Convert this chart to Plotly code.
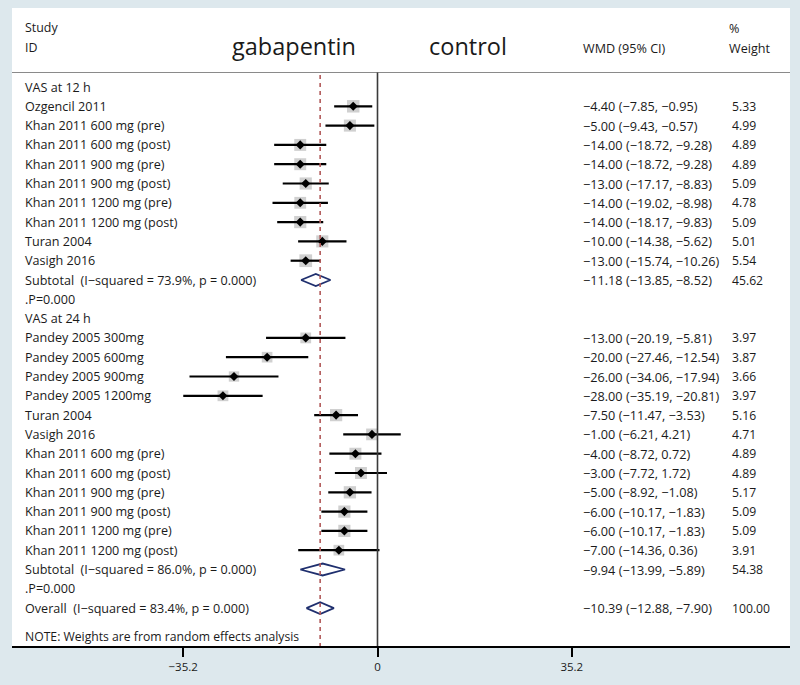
import plotly.graph_objects as go

# ---------------- data ----------------
study12 = ["Ozgencil 2011", "Khan 2011 600 mg (pre)", "Khan 2011 600 mg (post)",
           "Khan 2011 900 mg (pre)", "Khan 2011 900 mg (post)", "Khan 2011 1200 mg (pre)",
           "Khan 2011 1200 mg (post)", "Turan 2004", "Vasigh 2016"]
wmd12 = [-4.40, -5.00, -14.00, -14.00, -13.00, -14.00, -14.00, -10.00, -13.00]
lo12 = [-7.85, -9.43, -18.72, -18.72, -17.17, -19.02, -18.17, -14.38, -15.74]
hi12 = [-0.95, -0.57, -9.28, -9.28, -8.83, -8.98, -9.83, -5.62, -10.26]
w12 = [5.33, 4.99, 4.89, 4.89, 5.09, 4.78, 5.09, 5.01, 5.54]

study24 = ["Pandey 2005 300mg", "Pandey 2005 600mg", "Pandey 2005 900mg", "Pandey 2005 1200mg",
           "Turan 2004", "Vasigh 2016", "Khan 2011 600 mg (pre)", "Khan 2011 600 mg (post)",
           "Khan 2011 900 mg (pre)", "Khan 2011 900 mg (post)", "Khan 2011 1200 mg (pre)",
           "Khan 2011 1200 mg (post)"]
wmd24 = [-13.00, -20.00, -26.00, -28.00, -7.50, -1.00, -4.00, -3.00, -5.00, -6.00, -6.00, -7.00]
lo24 = [-20.19, -27.46, -34.06, -35.19, -11.47, -6.21, -8.72, -7.72, -8.92, -10.17, -10.17, -14.36]
hi24 = [-5.81, -12.54, -17.94, -20.81, -3.53, 4.21, 0.72, 1.72, -1.08, -1.83, -1.83, 0.36]
w24 = [3.97, 3.87, 3.66, 3.97, 5.16, 4.71, 4.89, 4.89, 5.17, 5.09, 5.09, 3.91]

pooled_labels = ["Subtotal  (I\u2212squared = 73.9%, p = 0.000)",
                 "Subtotal  (I\u2212squared = 86.0%, p = 0.000)",
                 "Overall  (I\u2212squared = 83.4%, p = 0.000)"]
pooled_wmd = [-11.18, -9.94, -10.39]
pooled_lo = [-13.85, -13.99, -12.88]
pooled_hi = [-8.52, -5.89, -7.90]
pooled_w = [45.62, 54.38, 100.00]

group_labels = ["VAS at 12 h", "VAS at 24 h"]
tick_vals = [-35.2, 0, 35.2]
tick_text = ["\u221235.2", "0", "35.2"]
overall_effect = -10.39

# ---------------- layout helpers ----------------
W, H = 800, 685
ML, MR, MT, MB = 12, 10, 8, 39
PX0, PX1 = ML, W - MR
ROW0_PX, ROW_H = 87.0, 19.3
ZERO_PX, UNIT_PX = 377.5, 5.52

x_range = [(PX0 - ZERO_PX) / UNIT_PX, (PX1 - ZERO_PX) / UNIT_PX]
y_range = [(H - MB - ROW0_PX) / ROW_H, (MT - ROW0_PX) / ROW_H]


def px2paper(px):
    return (px - PX0) / (PX1 - PX0)


def pyrow(py):
    return (py - ROW0_PX) / ROW_H


def fmt(v):
    s = f"{v:.2f}"
    return s.replace("-", "\u2212")


FONT = "Open Sans"
TXT = "#1a1a1a"
LAB = 12.6
NUM = 12.7
WNUM = 12.2

# rows
rows12 = [1 + i for i in range(len(study12))]
sub12_row = rows12[-1] + 1
p12_row = sub12_row + 1
g24_row = p12_row + 1
rows24 = [g24_row + 1 + i for i in range(len(study24))]
sub24_row = rows24[-1] + 1
p24_row = sub24_row + 1
overall_row = p24_row + 1
note_row = overall_row + 1.45
pooled_rows = [sub12_row, sub24_row, overall_row]

fig = go.Figure()

est = wmd12 + wmd24
los = lo12 + lo24
his = hi12 + hi24
ws = w12 + w24
rows = rows12 + rows24

# weight boxes
fig.add_trace(go.Scatter(
    x=est, y=rows, mode="markers",
    marker=dict(symbol="square", size=[5.4 * (w ** 0.5) for w in ws],
                color="rgba(160,160,160,0.7)", line=dict(width=0)),
    hoverinfo="skip", showlegend=False))
# CI lines
fig.add_trace(go.Scatter(
    x=est, y=rows, mode="markers",
    marker=dict(size=1, color="rgba(0,0,0,0)"),
    error_x=dict(type="data", symmetric=False,
                 array=[h - e for h, e in zip(his, est)],
                 arrayminus=[e - l for e, l in zip(est, los)],
                 width=0, thickness=2.2, color="black"),
    hoverinfo="skip", showlegend=False))
# point estimates
fig.add_trace(go.Scatter(
    x=est, y=rows, mode="markers",
    marker=dict(symbol="diamond", size=7, color="black"),
    hoverinfo="skip", showlegend=False))

# pooled diamonds
for r, e, l, h in zip(pooled_rows, pooled_wmd, pooled_lo, pooled_hi):
    fig.add_trace(go.Scatter(
        x=[l, e, h, e, l], y=[r, r - 0.31, r, r + 0.31, r],
        mode="lines", fill="toself", fillcolor="white",
        line=dict(color="#1f2f6e", width=1.8),
        hoverinfo="skip", showlegend=False))

shapes = []
# header separator
shapes.append(dict(type="line", xref="paper", yref="y", x0=0, x1=1,
                   y0=pyrow(72.5), y1=pyrow(72.5),
                   line=dict(color="#8a8a8a", width=1)))
# zero line
shapes.append(dict(type="line", xref="x", yref="y", x0=0, x1=0,
                   y0=pyrow(72.5), y1=y_range[0],
                   line=dict(color="#3a3a3a", width=1.6)))
# overall effect dashed line
shapes.append(dict(type="line", xref="x", yref="y", x0=overall_effect, x1=overall_effect,
                   y0=pyrow(75), y1=y_range[0],
                   line=dict(color="#b25a5a", width=1.6, dash="4px,4px")))
fig.update_layout(shapes=shapes)

ann = []


def add_text(px, row, text, size=LAB, anchor="left", color=TXT):
    ann.append(dict(xref="paper", yref="y", x=px2paper(px), y=row, text=text,
                    showarrow=False, xanchor=anchor, yanchor="middle",
                    font=dict(family=FONT, size=size, color=color)))


LX = 23
WX = 581
PWX = 730

# header
add_text(LX, pyrow(27), "Study", 12.4)
add_text(LX, pyrow(47), "ID", 12.4)
add_text(294, pyrow(46), "gabapentin", 23.5, anchor="center")
add_text(468, pyrow(46), "control", 23.5, anchor="center")
add_text(WX, pyrow(48), "WMD (95% CI)", 12.6)
add_text(727, pyrow(28), "%", 12.6)
add_text(727, pyrow(48), "Weight", 12.6)

add_text(LX, 0, group_labels[0])
add_text(LX, g24_row, group_labels[1])
for r, s, e, l, h, w in zip(rows, study12 + study24, est, los, his, ws):
    add_text(LX, r, s)
    add_text(WX, r, f"{fmt(e)} ({fmt(l)}, {fmt(h)})", NUM)
    add_text(PWX, r, f"{w:.2f}", WNUM)
for r, s, e, l, h, w in zip(pooled_rows, pooled_labels, pooled_wmd, pooled_lo, pooled_hi, pooled_w):
    add_text(LX, r, s)
    add_text(WX, r, f"{fmt(e)} ({fmt(l)}, {fmt(h)})", NUM)
    add_text(PWX, r, f"{w:.2f}", WNUM)
add_text(LX, p12_row, ".P=0.000")
add_text(LX, p24_row, ".P=0.000")
add_text(LX, note_row, "NOTE: Weights are from random effects analysis", 12.2)

fig.update_layout(
    annotations=ann,
    width=W, height=H,
    margin=dict(l=ML, r=MR, t=MT, b=MB, pad=0),
    paper_bgcolor="#dde8ed",
    plot_bgcolor="white",
    xaxis=dict(range=x_range, showgrid=False, zeroline=False,
               tickvals=tick_vals, ticktext=tick_text,
               ticks="outside", ticklen=9, tickwidth=1.5, tickcolor="black",
               showline=True, linecolor="black", linewidth=1.5,
               tickfont=dict(family=FONT, size=11.5, color=TXT), fixedrange=True),
    yaxis=dict(range=y_range, visible=False, fixedrange=True),
    font=dict(family=FONT),
)

fig.write_html("out.html", config={"displayModeBar": False},
               post_script="document.body.style.margin='0px';document.body.style.background='#dde8ed';")
